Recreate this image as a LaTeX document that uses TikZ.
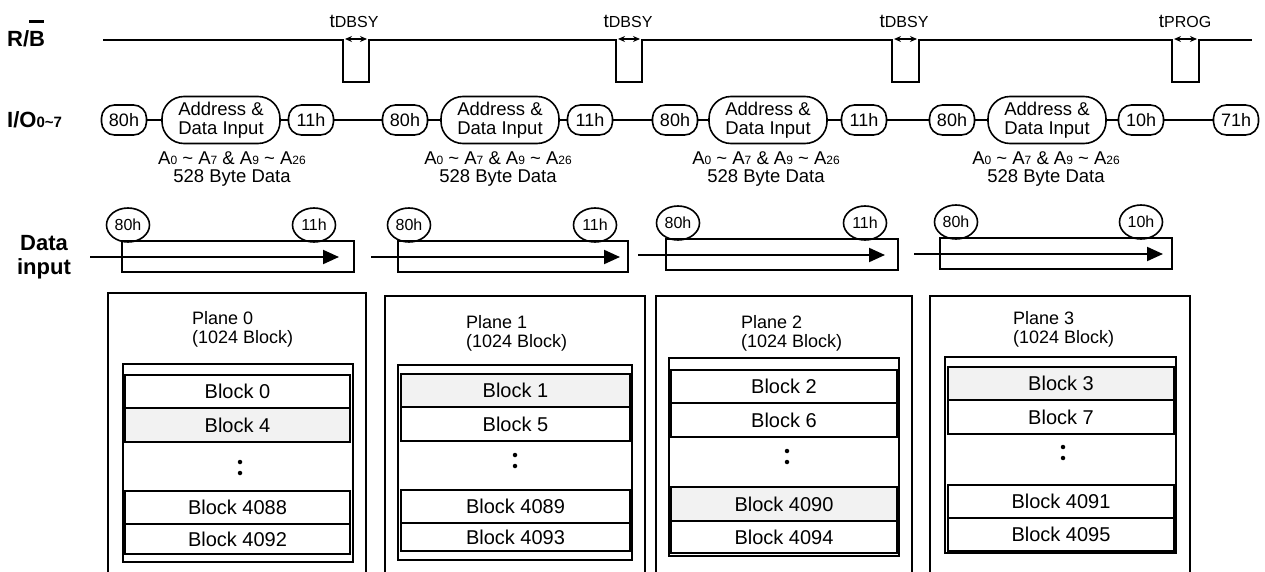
\documentclass[tikz,border=0pt]{standalone}
\usepackage{fontspec}
\setmainfont{Liberation Sans}
\usetikzlibrary{arrows.meta,shapes.geometric}
\newcommand\fsz[2]{\fontsize{#1pt}{#2pt}\selectfont}
\newcommand\dig[1]{{\fsz{12}{12}#1}}
\newcommand\tsub[1]{{\fsz{16}{16}#1}}
\tikzset{
 sig/.style={line width=2pt},
 ov/.style={draw, line width=1.6pt, rounded corners=13pt, minimum width=45pt, minimum height=30pt, inner sep=0pt, font=\fsz{18}{18}},
 adr/.style={draw, line width=1.6pt, rounded corners=22pt, minimum width=118pt, minimum height=47pt, inner sep=0pt, align=center, font=\fsz{18.5}{19}},
 anno/.style={font=\fsz{18.5}{20}, inner sep=0pt},
 cir/.style={draw, ellipse, line width=1.6pt, minimum width=43pt, minimum height=34pt, inner sep=0pt, font=\fsz{16}{16}},
 drect/.style={draw, line width=2pt},
 darr/.style={line width=2pt, -{Triangle[length=16pt,width=14pt]}},
 plane/.style={line width=2pt},
 blk/.style={draw, line width=2pt, inner sep=0pt, font=\fsz{20}{20}},
 shade/.style={fill=black!5},
 ptxt/.style={anchor=west, inner sep=0pt, font=\fsz{18}{18}},
 lbl/.style={font=\fsz{22}{24}\bfseries, inner sep=0pt},
 tl/.style={font=\fsz{19}{19}, inner sep=0pt},
 tarr/.style={line width=1.3pt, {Stealth[length=7pt,width=6pt]}-{Stealth[length=7pt,width=6pt]}},
 dot/.style={fill=black, circle, inner sep=0pt, minimum size=4.5pt},
}
\begin{document}
\begin{tikzpicture}[x=1pt,y=-1pt]
\useasboundingbox (0,0) rectangle (1265,572);

% ---------- left labels ----------
\node[lbl, anchor=base west] (rb) at (7,47) {R/\makebox[0pt][l]{\raisebox{24pt}{\rule{15pt}{2.6pt}}}B};
\node[lbl, anchor=base west] (io) at (7,128) {I/O{\fsz{15}{15}0\textasciitilde7}};
\node[lbl, align=center] (di) at (44,257) {Data\\input};

% ---------- R/B waveform ----------
\draw[sig] (103,40) -- (343,40) -- (343,82) -- (369,82) -- (369,40)
  -- (616,40) -- (616,82) -- (642,82) -- (642,40)
  -- (892,40) -- (892,82) -- (919,82) -- (919,40)
  -- (1172,40) -- (1172,82) -- (1199,82) -- (1199,40) -- (1252,40);
\draw[tarr] (345,39) -- (367,39);
\draw[tarr] (618,39) -- (640,39);
\draw[tarr] (894,39) -- (917,39);
\draw[tarr] (1174,39) -- (1197,39);
\node[tl] (t1) at (354,21) {t\tsub{DBSY}};
\node[tl] (t2) at (628,21) {t\tsub{DBSY}};
\node[tl] (t3) at (904,21) {t\tsub{DBSY}};
\node[tl] (t4) at (1185,21) {t\tsub{PROG}};

% ---------- I/O row ----------
\node[ov] (a80) at (124,120) {80h};
\node[adr] (aad) at (221,120) {Address \&\\Data Input};
\node[ov] (a11) at (311,120) {11h};
\node[ov] (b80) at (405,120) {80h};
\node[adr] (bad) at (500,120) {Address \&\\Data Input};
\node[ov] (b11) at (590,120) {11h};
\node[ov] (c80) at (675,120) {80h};
\node[adr] (cad) at (768,120) {Address \&\\Data Input};
\node[ov] (c11) at (864,120) {11h};
\node[ov] (d80) at (952,120) {80h};
\node[adr] (dad) at (1047,120) {Address \&\\Data Input};
\node[ov] (d10) at (1141,120) {10h};
\node[ov] (d71) at (1236,120) {71h};
\draw[sig] (a80) -- (aad) -- (a11) -- (b80) -- (bad) -- (b11) -- (c80) -- (cad) -- (c11)
  -- (d80) -- (dad) -- (d10) -- (d71);

\foreach \n/\x in {an1/232, an2/498, an3/766, an4/1046}{
  \node[anno] (\n a) at (\x,158) {A\dig{0} \textasciitilde{} A\dig{7} \& A\dig{9} \textasciitilde{} A\dig{26}};
  \node[anno] (\n b) at (\x,178) {528 Byte Data};
}

% ---------- Data input row ----------
\draw[drect] (122,241) rectangle (354,272);
\draw[drect] (398,241) rectangle (628,272);
\draw[drect] (666,239) rectangle (898,270);
\draw[drect] (940,238) rectangle (1172,269);
\coordinate (s1) at (90,257);  \coordinate (e1) at (339,257);
\coordinate (s2) at (371,257); \coordinate (e2) at (620,257);
\coordinate (s3) at (638,255); \coordinate (e3) at (885,255);
\coordinate (s4) at (914,254); \coordinate (e4) at (1163,254);
\draw[darr] (s1) -- (e1);
\draw[darr] (s2) -- (e2);
\draw[darr] (s3) -- (e3);
\draw[darr] (s4) -- (e4);
\node[cir] (p80a) at (128,225) {80h};
\node[cir] (p11a) at (314,225) {11h};
\node[cir] (p80b) at (409,225) {80h};
\node[cir] (p11b) at (595,225) {11h};
\node[cir] (p80c) at (678,223) {80h};
\node[cir] (p11c) at (865,223) {11h};
\node[cir] (p80d) at (956,222) {80h};
\node[cir] (p10d) at (1141,222) {10h};

% ---------- Plane 0 ----------
\draw[plane] (108,572) -- (108,293) -- (366,293) -- (366,572);
\node[ptxt] (pl0) at (192,318) {Plane 0};
\node[ptxt] (pk0) at (192,339) {(1024 Block)};
\draw[plane] (123,364) rectangle (353,562);
\node[blk, minimum width=225pt, minimum height=33pt] (b0) at (237.5,391.5) {Block 0};
\node[blk, shade, minimum width=225pt, minimum height=34pt] (b4) at (237.5,425) {Block 4};
\node[dot] (d0a) at (240,462) {};
\node[dot] (d0b) at (240,473) {};
\node[blk, minimum width=225pt, minimum height=33pt] (b4088) at (237.5,507.5) {Block 4088};
\node[blk, minimum width=225pt, minimum height=30pt] (b4092) at (237.5,539) {Block 4092};

% ---------- Plane 1 ----------
\draw[plane] (385,572) -- (385,296) -- (645,296) -- (645,572);
\node[ptxt] (pl1) at (466,322) {Plane 1};
\node[ptxt] (pk1) at (466,343) {(1024 Block)};
\draw[plane] (398,365) rectangle (632,560);
\node[blk, shade, minimum width=229pt, minimum height=33pt] (b1) at (515.5,390.5) {Block 1};
\node[blk, minimum width=229pt, minimum height=34pt] (b5) at (515.5,424) {Block 5};
\node[dot] (d1a) at (515,455) {};
\node[dot] (d1b) at (515,466) {};
\node[blk, minimum width=229pt, minimum height=33pt] (b4089) at (515.5,506.5) {Block 4089};
\node[blk, minimum width=229pt, minimum height=28pt] (b4093) at (515.5,537) {Block 4093};

% ---------- Plane 2 ----------
\draw[plane] (656,572) -- (656,296) -- (912,296) -- (912,572);
\node[ptxt] (pl2) at (741,322) {Plane 2};
\node[ptxt] (pk2) at (741,343) {(1024 Block)};
\draw[plane] (669,358) rectangle (899,556);
\node[blk, minimum width=226pt, minimum height=33pt] (b2) at (784,386.5) {Block 2};
\node[blk, minimum width=226pt, minimum height=34pt] (b6) at (784,420) {Block 6};
\node[dot] (d2a) at (787,451) {};
\node[dot] (d2b) at (787,462) {};
\node[blk, shade, minimum width=226pt, minimum height=34pt] (b4090) at (784,504) {Block 4090};
\node[blk, minimum width=226pt, minimum height=32pt] (b4094) at (784,537) {Block 4094};

% ---------- Plane 3 ----------
\draw[plane] (930,572) -- (930,296) -- (1190,296) -- (1190,572);
\node[ptxt] (pl3) at (1013,318) {Plane 3};
\node[ptxt] (pk3) at (1013,339) {(1024 Block)};
\draw[plane] (945,357) rectangle (1176,553);
\node[blk, shade, minimum width=226pt, minimum height=33pt] (b3) at (1061,383.5) {Block 3};
\node[blk, minimum width=226pt, minimum height=34pt] (b7) at (1061,417) {Block 7};
\node[dot] (d3a) at (1063,447) {};
\node[dot] (d3b) at (1063,458) {};
\node[blk, minimum width=226pt, minimum height=33pt] (b4091) at (1061,501.5) {Block 4091};
\node[blk, minimum width=226pt, minimum height=33pt] (b4095) at (1061,534.5) {Block 4095};
\end{tikzpicture}
\end{document}
